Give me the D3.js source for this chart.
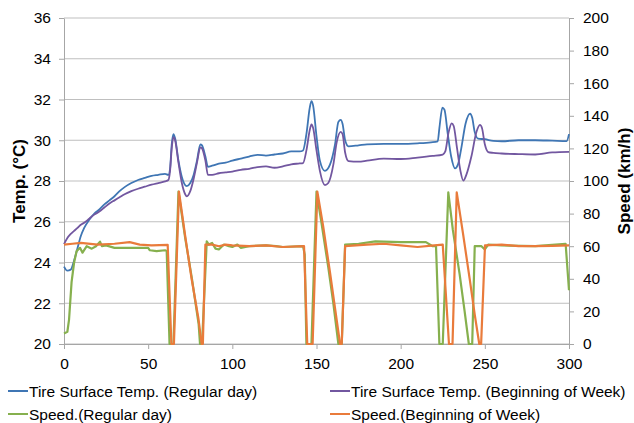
<!DOCTYPE html>
<html>
<head>
<meta charset="utf-8">
<script src="https://cdn.jsdelivr.net/npm/d3@7.9.0/dist/d3.min.js"></script>
<style>
  body { margin: 0; background: #fff; }
  svg { display: block; font-family: Arial, "Liberation Sans", sans-serif; }
</style>
</head>
<body>
<svg id="chart" width="634" height="423"></svg>
<script>
/* ---------------- Data ---------------- */

const xTicks = [0, 50, 100, 150, 200, 250, 300];
const tempTicks = [20, 22, 24, 26, 28, 30, 32, 34, 36];
const speedTicks = [0, 20, 40, 60, 80, 100, 120, 140, 160, 180, 200];

const seriesNames = [
    'Tire Surface Temp. (Regular day)',
    'Tire Surface Temp. (Beginning of Week)',
    'Speed.(Regular day)',
    'Speed.(Beginning of Week)',
];

// [time, °C]
const tempRegular = [
    [0, 23.8], [2, 23.6], [4, 23.65], [6, 24.1], [8, 24.7], [10, 25.3], [12, 25.7],
    [15, 26.1], [18, 26.4], [21, 26.6], [24, 26.85], [27, 27.05], [30, 27.25],
    [33, 27.5], [36, 27.7], [40, 27.9], [44, 28.05], [48, 28.15], [52, 28.25],
    [56, 28.3], [60, 28.35], [62, 28.3], [63, 28.6], [64, 29.8], [65, 30.3],
    [66, 30.1], [68, 29.0], [70, 28.2], [73, 27.75], [75, 27.9], [77, 28.3],
    [79, 29.0], [81, 29.8], [82, 29.75], [84, 29.2], [85.5, 28.7], [88, 28.75],
    [92, 28.85], [96, 28.9], [100, 29.0], [105, 29.1], [110, 29.2], [115, 29.28],
    [120, 29.25], [125, 29.3], [130, 29.35], [135, 29.45], [140, 29.45], [142, 29.5],
    [144, 30.3], [146, 31.6], [147, 31.92], [148, 31.7], [150, 30.2], [152, 29.0],
    [155, 28.5], [158, 28.8], [161, 29.8], [163, 30.9], [164.4, 31.0], [165.5, 30.8],
    [167, 30.0], [169, 29.7], [175, 29.75], [180, 29.8], [190, 29.82], [200, 29.82],
    [210, 29.85], [218, 29.9], [222, 29.95], [223, 30.6], [224.8, 31.6], [226, 31.5],
    [228, 30.3], [230, 29.2], [232.3, 28.62], [234, 28.8], [236, 29.6], [238.5, 30.8],
    [241.2, 31.3], [242.5, 31.1], [244, 30.4], [246, 30.08], [250, 30.05], [255, 29.97],
    [260, 29.95], [270, 30.0], [280, 30.0], [290, 29.98], [298.6, 29.96], [300, 30.3],
];

const tempWeekStart = [
    [0, 24.9], [2, 25.2], [4, 25.4], [6, 25.55], [8, 25.7], [10, 25.85], [12, 25.95],
    [15, 26.15], [18, 26.35], [21, 26.5], [24, 26.7], [27, 26.9], [30, 27.05],
    [33, 27.2], [36, 27.35], [40, 27.5], [44, 27.62], [48, 27.72], [52, 27.82],
    [56, 27.9], [60, 27.98], [62, 28.05], [63, 28.5], [64, 29.6], [65, 30.15],
    [66, 30.0], [68, 28.9], [70, 27.9], [72, 27.35], [73, 27.25], [75, 27.5],
    [77, 28.1], [79, 28.9], [81, 29.65], [82, 29.6], [84, 29.0], [85.5, 28.3],
    [88, 28.3], [92, 28.38], [96, 28.42], [100, 28.46], [105, 28.55], [110, 28.6],
    [115, 28.68], [120, 28.72], [125, 28.65], [130, 28.72], [135, 28.82], [140, 28.86],
    [142, 28.88], [144, 29.5], [146, 30.5], [147, 30.78], [148, 30.6], [150, 29.5],
    [152, 28.5], [155, 27.8], [157, 27.9], [160, 28.8], [162, 29.9], [164.4, 30.41],
    [165.5, 30.3], [167, 29.4], [169, 28.98], [175, 28.95], [180, 29.0], [190, 29.1],
    [200, 29.08], [210, 29.15], [219, 29.23], [225, 29.3], [226.5, 29.45], [228.5, 30.4],
    [230.3, 30.83], [231.5, 30.7], [233.5, 29.6], [235.5, 28.5], [237.2, 28.02],
    [239, 28.3], [242, 29.2], [245, 30.4], [247.1, 30.75], [248.3, 30.6], [250, 29.8],
    [252, 29.42], [255, 29.38], [260, 29.35], [270, 29.32], [280, 29.3], [290, 29.4],
    [300, 29.43],
];

// [time, km/h]
const speedRegular = [
    [0, 6.5], [2, 7.5], [3, 15], [4.5, 38], [6, 50], [7.5, 57], [9.5, 59], [11, 56],
    [13.5, 60], [16.5, 58.5], [19, 60], [21.4, 62.8], [22.5, 60], [25, 60.5], [30, 59],
    [40, 59], [50, 59], [51, 57.5], [55, 57], [60, 57.5], [61, 57], [62.7, 0], [65, 0],
    [68, 93.5], [72, 65], [76, 40], [80, 12], [80.8, 0], [82, 0], [84.8, 63], [86, 61],
    [88, 62], [90, 58.5], [92, 58], [95, 61], [98, 60], [100, 59.5], [103, 61],
    [105, 59], [110, 60], [120, 60.5], [126, 60], [130, 59.5], [142, 60], [143, 55],
    [144, 0], [147, 0], [150, 93.5], [153, 74], [157, 47], [160, 25], [163, 0],
    [165, 0], [167, 61], [175, 61.5], [185, 63], [200, 62.5], [215, 62.5], [219, 60],
    [221, 60], [223, 0], [225, 0], [228.3, 93], [231, 70], [235, 43], [238, 20],
    [240.5, 0], [242.5, 0], [244, 60], [248, 60], [250, 58], [252, 61], [260, 60.5],
    [280, 60], [298, 61.5], [300, 33],
];

const speedWeekStart = [
    [0, 61], [5, 61.5], [10, 62], [20, 61], [30, 61.5], [39, 62.5], [45, 61],
    [52, 60.5], [61.6, 60.8], [63.8, 0], [65.3, 0], [68.3, 93.5], [71.9, 67],
    [75.8, 40], [79.8, 16], [81.8, 0], [82.5, 0], [84, 61], [88, 61], [92, 60],
    [96, 61], [100, 60.5], [110, 60], [120, 60.5], [130, 59.5], [142.6, 60],
    [144.5, 0], [147.7, 0], [150.5, 93.5], [154, 72], [158, 44], [161, 22], [164, 0],
    [165, 0], [167, 60], [180, 61], [190, 61.5], [200, 60.5], [210, 59.5], [220, 60.5],
    [225, 61], [228.7, 0], [230.8, 0], [233.3, 93], [237, 68], [241, 40], [244, 18],
    [246.7, 0], [247.8, 0], [250.1, 60.5], [260, 61], [270, 60], [280, 60],
    [290, 60.2], [300, 60.5],
];

/* ---------------- Layout ---------------- */

const svg = d3.select('#chart');
const plotLeft = 64, plotRight = 569, plotTop = 18, plotBottom = 344;
const gridColor = '#bfbfbf';
const axisColor = '#a6a6a6';
const tickFont = '15.5px';

const x = d3.scaleLinear().domain([0, 300]).range([plotLeft, plotRight]);
const yT = d3.scaleLinear().domain([20, 36]).range([plotBottom, plotTop]);
const yS = d3.scaleLinear().domain([0, 200]).range([plotBottom, plotTop]);

// Gridlines (primary axis)
svg.append('g')
    .selectAll('line')
    .data(tempTicks)
    .join('line')
    .attr('x1', plotLeft).attr('x2', plotRight)
    .attr('y1', d => yT(d)).attr('y2', d => yT(d))
    .attr('stroke', gridColor)
    .attr('stroke-width', 1);

function styleAxis(g) {
    g.selectAll('.domain').attr('stroke', axisColor);
    g.selectAll('.tick line').attr('stroke', axisColor);
    g.selectAll('.tick text')
        .attr('fill', '#000')
        .style('font-size', tickFont)
        .style('font-family', 'Arial, "Liberation Sans", sans-serif');
}

svg.append('g')
    .attr('transform', `translate(${plotLeft},0)`)
    .call(d3.axisLeft(yT).tickValues(tempTicks).tickSize(5).tickSizeOuter(0).tickPadding(8))
    .call(styleAxis);

svg.append('g')
    .attr('transform', `translate(${plotRight},0)`)
    .call(d3.axisRight(yS).tickValues(speedTicks).tickSize(5).tickSizeOuter(0).tickPadding(9))
    .call(styleAxis);

svg.append('g')
    .attr('transform', `translate(0,${plotBottom})`)
    .call(d3.axisBottom(x).tickValues(xTicks).tickSize(5).tickSizeOuter(0).tickPadding(9))
    .call(styleAxis);

// Axis titles
svg.append('text')
    .attr('transform', `translate(19,${(plotTop + plotBottom) / 2}) rotate(-90)`)
    .attr('text-anchor', 'middle')
    .attr('dominant-baseline', 'central')
    .style('font-weight', 'bold')
    .style('font-size', '17px')
    .text('Temp. (°C)');

svg.append('text')
    .attr('transform', `translate(624,${(plotTop + plotBottom) / 2}) rotate(-90)`)
    .attr('text-anchor', 'middle')
    .attr('dominant-baseline', 'central')
    .style('font-weight', 'bold')
    .style('font-size', '17px')
    .text('Speed (km/h)');

/* ---------------- Series ---------------- */

const colors = ['#3f76b4', '#7257a0', '#86b04e', '#e97b3b'];

const tempLine = d3.line()
    .x(d => x(d[0]))
    .y(d => yT(d[1]))
    .curve(d3.curveMonotoneX);

const speedLine = d3.line()
    .x(d => x(d[0]))
    .y(d => yS(d[1]))
    .curve(d3.curveLinear);

const series = [
    { data: tempRegular, gen: tempLine, width: 1.8 },
    { data: tempWeekStart, gen: tempLine, width: 1.8 },
    { data: speedRegular, gen: speedLine, width: 2.2 },
    { data: speedWeekStart, gen: speedLine, width: 2.2 },
];

svg.append('g')
    .selectAll('path')
    .data(series)
    .join('path')
    .attr('d', d => d.gen(d.data))
    .attr('fill', 'none')
    .attr('stroke', (d, i) => colors[i])
    .attr('stroke-width', d => d.width)
    .attr('stroke-linejoin', 'round');

/* ---------------- Legend ---------------- */

const legendPos = [[8, 391], [330, 391], [8, 414], [330, 414]];

const legend = svg.append('g')
    .selectAll('g')
    .data(seriesNames)
    .join('g')
    .attr('transform', (d, i) => `translate(${legendPos[i][0]},${legendPos[i][1]})`);

legend.append('line')
    .attr('x1', 0).attr('x2', 20)
    .attr('stroke', (d, i) => colors[i])
    .attr('stroke-width', 2);

legend.append('text')
    .attr('x', 21)
    .attr('dominant-baseline', 'central')
    .style('font-size', tickFont)
    .text(d => d);
</script>
</body>
</html>
